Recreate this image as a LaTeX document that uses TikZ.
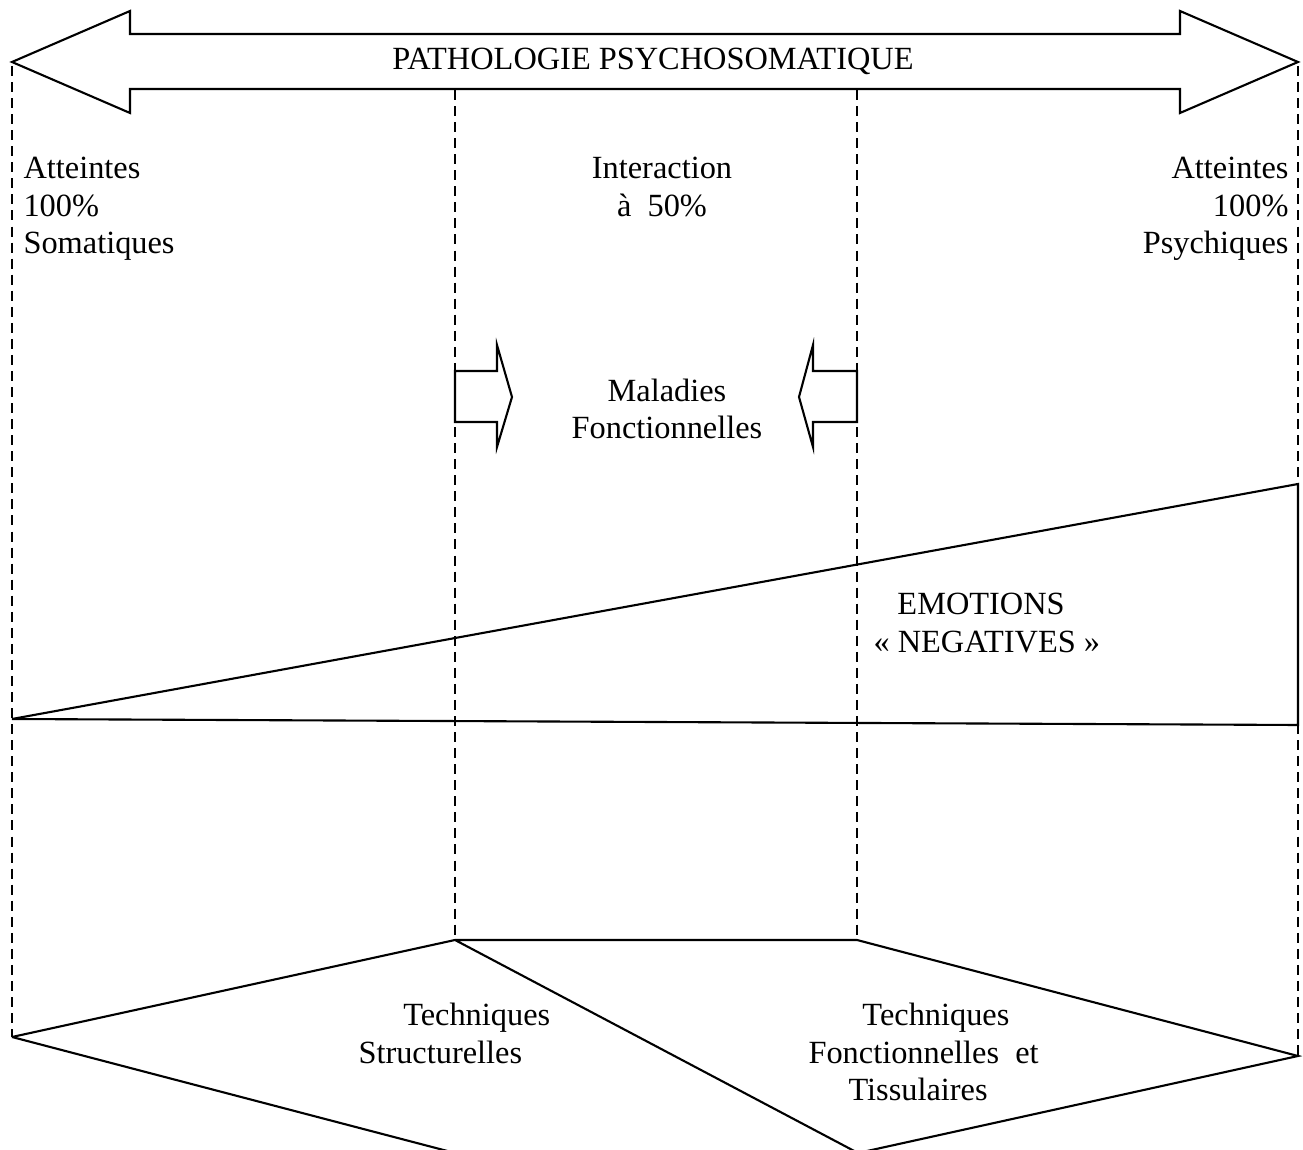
\documentclass[tikz,border=0pt]{standalone}
\usepackage{fontspec}
\setmainfont{Liberation Serif}
\usepackage{tikz}
\usetikzlibrary{positioning}

\begin{document}
\begin{tikzpicture}[x=0.38pt,y=-0.38pt,
  outl/.style={draw=black,line width=0.8pt,line join=miter},
  sep/.style={draw=black,line width=0.8pt,dash pattern=on 3.8pt off 2.3pt},
  lbl/.style={inner sep=0pt,font=\fontsize{12.3}{14.1}\selectfont},
]
\useasboundingbox (0,0) rectangle (1303,1150);
\clip (0,0) rectangle (1303,1150);
% column limits
\coordinate (lt) at (12,62);
\coordinate (rt) at (1298,62);
\coordinate (ml) at (455,90);
\coordinate (mr) at (857,90);
% dashed separators
\draw[sep] (12,66) -- (12,1037);
\draw[sep] (1298,66) -- (1298,1056);
\draw[sep] (ml) -- (455,940);
\draw[sep] (mr) -- (857,940);
% big double arrow
\draw[outl] (lt) -- (130,11) -- (130,34) -- (1180,34) -- (1180,11) -- (rt)
  -- (1180,113) -- (1180,89) -- (130,89) -- (130,113) -- cycle;
\node[lbl] (patho) at (653,61) {PATHOLOGIE PSYCHOSOMATIQUE};
% column headings
\node[lbl,anchor=north west,align=left] (soma) at (23,157) {Atteintes\\100\%\\Somatiques};
\node[lbl,anchor=north,align=center] (inter) at (662,157) {Interaction\\à~~50\%};
\node[lbl,anchor=north east,align=right] (psy) at (1289,157) {Atteintes\\100\%\\Psychiques};
% block arrows
\draw[outl,fill=white] (455,371) -- (497,371) -- (497,345) -- (512,397) -- (497,447)
  -- (497,422) -- (455,422) -- cycle;
\draw[outl,fill=white] (857,371) -- (813,371) -- (813,345) -- (799,397) -- (813,447)
  -- (813,422) -- (857,422) -- cycle;
\node[lbl,align=center] (mal) at (667,409) {Maladies\\Fonctionnelles};
% emotions wedge
\draw[outl] (12,719) -- (1298,484) -- (1298,725) -- cycle;
\node[lbl,anchor=north west,align=left] (emo) at (873,593) {\hspace*{9.1pt}EMOTIONS\\« NEGATIVES »};
% techniques
\draw[outl] (12,1037) -- (455,940) -- (857,940) -- (1298,1056) -- (858,1153)
  (455,940) -- (858,1153)
  (12,1037) -- (455,1153);
\node[lbl,anchor=north west,align=left] (struct) at (358,1003) {\hspace*{17pt}Techniques\\Structurelles};
\node[lbl,anchor=north west,align=left] (fonct) at (808,1003) {\hspace*{20.5pt}Techniques\\Fonctionnelles~~et\\\hspace*{15.2pt}Tissulaires};
\end{tikzpicture}
\end{document}
